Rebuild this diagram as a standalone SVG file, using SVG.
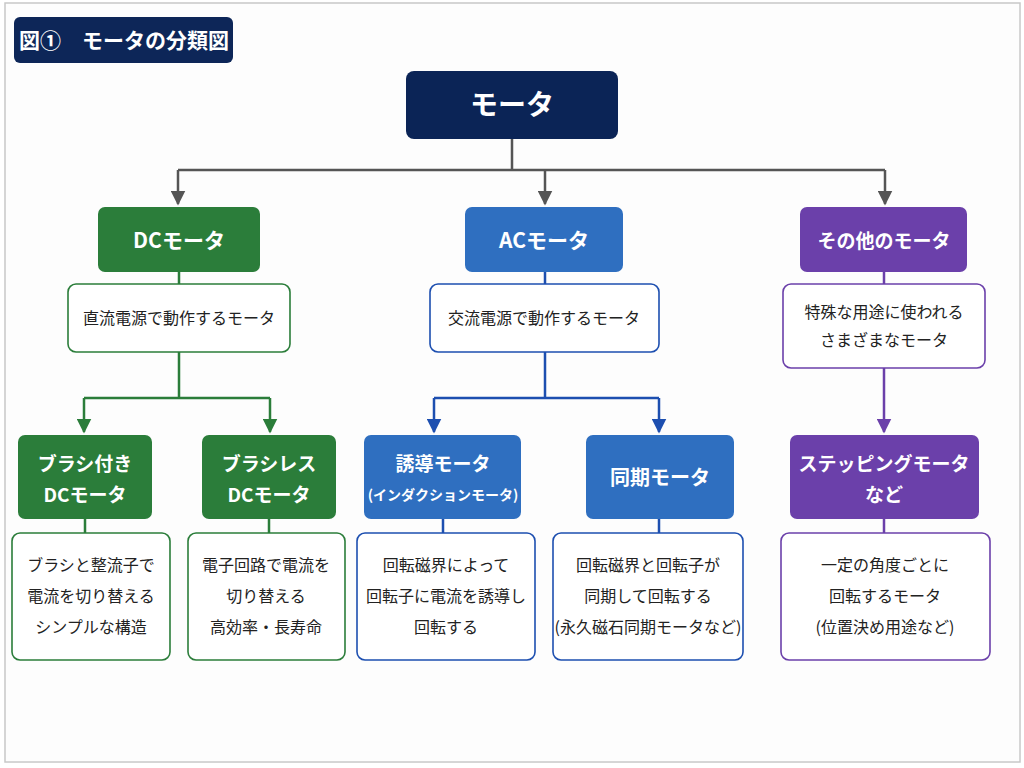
<svg xmlns="http://www.w3.org/2000/svg" width="1024" height="768" viewBox="0 0 1024 768">
<style>
text{font-family:"Noto Sans CJK JP","Noto Sans",sans-serif;text-anchor:middle;}
.w{fill:#fff;font-weight:bold;}
.d{fill:#222;font-size:16px;}
.g{fill:#2b7d3a;} .b{fill:#2f6fc0;} .p{fill:#6b40aa;}
.bx{fill:#fff;stroke-width:1.6;}
</style>
<defs>
<marker id="ak" viewBox="0 0 10 10" refX="9" refY="5" markerWidth="6" markerHeight="6" orient="auto"><path d="M0,0L10,5L0,10z" fill="#555"/></marker>
<marker id="ag" viewBox="0 0 10 10" refX="9" refY="5" markerWidth="6" markerHeight="6" orient="auto"><path d="M0,0L10,5L0,10z" fill="#2b7d3a"/></marker>
<marker id="ab" viewBox="0 0 10 10" refX="9" refY="5" markerWidth="6" markerHeight="6" orient="auto"><path d="M0,0L10,5L0,10z" fill="#1d4fb0"/></marker>
<marker id="ap" viewBox="0 0 10 10" refX="9" refY="5" markerWidth="6" markerHeight="6" orient="auto"><path d="M0,0L10,5L0,10z" fill="#6b40aa"/></marker>
</defs>
<rect width="1024" height="768" fill="#fff"/>
<rect x="5" y="3" width="1015" height="759" fill="#fdfdfd" stroke="#c8c8c8" stroke-width="1.5"/>
<g id="title"><rect x="14" y="17" width="219" height="46" rx="6" fill="#0d2658"/><text x="124" y="48" class="w" font-size="21">図①　モータの分類図</text></g>
<g id="connectors" fill="none" stroke-width="2.5">
<path d="M512,139V170M178,170H885" stroke="#555"/>
<path d="M178,170V204" stroke="#555" marker-end="url(#ak)"/>
<path d="M545,170V204" stroke="#555" marker-end="url(#ak)"/>
<path d="M885,170V204" stroke="#555" marker-end="url(#ak)"/>
<path d="M179,272V284M179,352V398M84,398H270" stroke="#2b7d3a"/>
<path d="M84,398V432" stroke="#2b7d3a" marker-end="url(#ag)"/>
<path d="M270,398V432" stroke="#2b7d3a" marker-end="url(#ag)"/>
<path d="M85,519V533M269,519V533" stroke="#2b7d3a"/>
<path d="M545,272V284M545,352V398M434,398H659" stroke="#1d4fb0"/>
<path d="M434,398V432" stroke="#1d4fb0" marker-end="url(#ab)"/>
<path d="M659,398V432" stroke="#1d4fb0" marker-end="url(#ab)"/>
<path d="M443,519V533M659,519V533" stroke="#1d4fb0"/>
<path d="M884,272V284M884,519V533" stroke="#6b40aa"/>
<path d="M884,368V432" stroke="#6b40aa" marker-end="url(#ap)"/>
</g>
<g id="root"><rect x="406" y="71" width="212" height="68" rx="8" fill="#0b2456"/><text x="512" y="115" class="w" font-size="28">モータ</text></g>
<g id="dc"><rect x="98" y="207" width="162" height="65" rx="7" class="g"/><text x="179" y="248" class="w" font-size="21">DCモータ</text></g>
<g id="ac"><rect x="465" y="207" width="158" height="65" rx="7" class="b"/><text x="544" y="248" class="w" font-size="21">ACモータ</text></g>
<g id="other"><rect x="800" y="207" width="167" height="65" rx="7" class="p"/><text x="884" y="248" class="w" font-size="19">その他のモータ</text></g>
<g id="dcdesc"><rect x="68" y="284" width="222" height="68" rx="8" class="bx" stroke="#2b7d3a"/><text x="179" y="324" class="d">直流電源で動作するモータ</text></g>
<g id="acdesc"><rect x="430" y="284" width="229" height="68" rx="8" class="bx" stroke="#1d4fb0"/><text x="544" y="324" class="d">交流電源で動作するモータ</text></g>
<g id="otherdesc"><rect x="783" y="284" width="202" height="84" rx="8" class="bx" stroke="#6b40aa"/><text x="884" y="318" class="d">特殊な用途に使われる</text><text x="884" y="346" class="d">さまざまなモータ</text></g>
<g id="brush"><rect x="18" y="435" width="134" height="84" rx="7" class="g"/><text x="85" y="471" class="w" font-size="19">ブラシ付き</text><text x="85" y="502" class="w" font-size="19">DCモータ</text></g>
<g id="brushless"><rect x="202" y="435" width="134" height="84" rx="7" class="g"/><text x="269" y="471" class="w" font-size="19">ブラシレス</text><text x="269" y="502" class="w" font-size="19">DCモータ</text></g>
<g id="induction"><rect x="364" y="435" width="157" height="84" rx="7" class="b"/><text x="443" y="471" class="w" font-size="19">誘導モータ</text><text x="443" y="500" class="w" font-size="14">(インダクションモータ)</text></g>
<g id="sync"><rect x="586" y="435" width="148" height="84" rx="7" class="b"/><text x="660" y="485" class="w" font-size="20">同期モータ</text></g>
<g id="stepping"><rect x="790" y="435" width="189" height="84" rx="7" class="p"/><text x="884" y="471" class="w" font-size="19">ステッピングモータ</text><text x="884" y="502" class="w" font-size="19">など</text></g>
<g id="brushdesc"><rect x="12" y="533" width="158" height="127" rx="8" class="bx" stroke="#2b7d3a"/><text x="91" y="571" class="d">ブラシと整流子で</text><text x="91" y="602" class="d">電流を切り替える</text><text x="91" y="633" class="d">シンプルな構造</text></g>
<g id="brushlessdesc"><rect x="188" y="533" width="157" height="127" rx="8" class="bx" stroke="#2b7d3a"/><text x="266" y="571" class="d">電子回路で電流を</text><text x="266" y="602" class="d">切り替える</text><text x="266" y="633" class="d">高効率・長寿命</text></g>
<g id="inductiondesc"><rect x="357" y="533" width="178" height="127" rx="8" class="bx" stroke="#1d4fb0"/><text x="446" y="571" class="d">回転磁界によって</text><text x="446" y="602" class="d">回転子に電流を誘導し</text><text x="446" y="633" class="d">回転する</text></g>
<g id="syncdesc"><rect x="553" y="533" width="190" height="127" rx="8" class="bx" stroke="#1d4fb0"/><text x="648" y="571" class="d">回転磁界と回転子が</text><text x="648" y="602" class="d">同期して回転する</text><text x="648" y="633" class="d">(永久磁石同期モータなど)</text></g>
<g id="steppingdesc"><rect x="781" y="533" width="209" height="127" rx="8" class="bx" stroke="#6b40aa"/><text x="885" y="571" class="d">一定の角度ごとに</text><text x="885" y="602" class="d">回転するモータ</text><text x="885" y="633" class="d">(位置決め用途など)</text></g>
</svg>
